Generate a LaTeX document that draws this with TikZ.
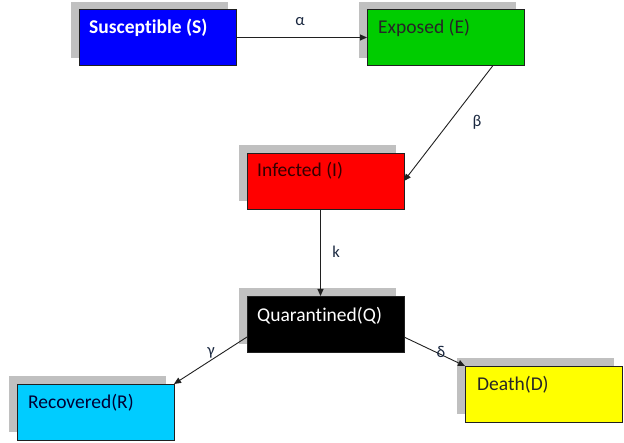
\documentclass[tikz,border=0pt]{standalone}
\usepackage{fontspec}
\setmainfont[Ligatures=NoCommon]{Carlito}
\usetikzlibrary{shadows,calc,arrows.meta}
\definecolor{shadowgray}{HTML}{C0C0C0}
\definecolor{boxblue}{HTML}{0000FF}
\definecolor{boxgreen}{HTML}{00CC00}
\definecolor{boxred}{HTML}{FF0000}
\definecolor{boxcyan}{HTML}{00CCFF}
\definecolor{boxyellow}{HTML}{FFFF00}
\definecolor{labelcol}{HTML}{1A2840}
\definecolor{edgecol}{HTML}{202020}
\tikzset{
  compbox/.style={draw=edgecol, line width=0.9pt, minimum width=157pt, minimum height=56pt,
    anchor=north west, inner sep=0pt, outer sep=0pt,
    general shadow={fill=shadowgray, shadow xshift=-8pt, shadow yshift=7.5pt}},
  boxtext/.style={anchor=base west, inner sep=0pt, font=\fontsize{19.5}{22}\selectfont},
  ratelabel/.style={inner sep=0pt, text=labelcol, font=\fontsize{16.5}{18}\selectfont},
  flow/.style={draw=edgecol, line width=0.9pt, -{Triangle[length=7pt,width=6pt]}}
}
\begin{document}
\begin{tikzpicture}[x=1pt,y=-1pt]
\useasboundingbox (0,0) rectangle (624,443);
% boxes
\node[compbox, fill=boxblue] (S) at (79,9.5) {};
\node[compbox, fill=boxgreen] (E) at (367,9.5) {};
\node[compbox, fill=boxred] (I) at (247,153) {};
\node[compbox, fill=black] (Q) at (247,296) {};
\node[compbox, fill=boxcyan] (R) at (17,384) {};
\node[compbox, fill=boxyellow] (D) at (465,366) {};
% texts
\node[boxtext, text=white, font=\fontsize{19.5}{22}\selectfont\bfseries] (St) at ($(S.north west)+(10,24)$) {Susceptible (S)};
\node[boxtext, text=black!85] (Et) at ($(E.north west)+(11,24.5)$) {Exposed (E)};
\node[boxtext, text=black!80!red] (It) at ($(I.north west)+(10,24)$) {Infected (I)};
\node[boxtext, text=white] (Qt) at ($(Q.north west)+(10,26)$) {Quarantined(Q)};
\node[boxtext, text=black!80!blue] (Rt) at ($(R.north west)+(11,25)$) {Recovered(R)};
\node[boxtext, text=black!85] (Dt) at ($(D.north west)+(12,25)$) {Death(D)};
% flows
\draw[flow] (S.east) -- (E.west);
\draw[flow] ($(E.south east)+(-31,0)$) -- (I.east);
\draw[flow] ($(I.south)+(-5,0)$) -- ($(Q.north)+(-5,0)$);
\draw[flow] ($(Q.south west)+(0,-15)$) -- (R.north east);
\draw[flow] ($(Q.south east)+(0,-15)$) -- (D.north west);
% rate labels
\node[ratelabel] (la) at (300,22) {α};
\node[ratelabel] (lb) at (477,122) {β};
\node[ratelabel] (lk) at (336,252) {k};
\node[ratelabel] (lg) at (211,353) {γ};
\node[ratelabel] (ld) at (441,352) {δ};
\end{tikzpicture}
\end{document}
